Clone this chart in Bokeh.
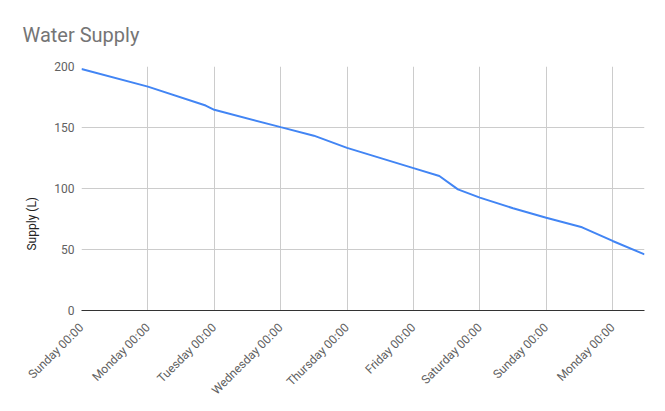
import math
from bokeh.plotting import figure
from bokeh.models import FixedTicker, Range1d, Title
from bokeh.embed import file_html
from bokeh.resources import INLINE

# Data (days since Sunday 00:00, supply in litres)
days = [0, 1, 1.87, 2, 3, 3.5, 4, 5, 5.39, 5.67, 6, 6.5, 7, 7.54, 8, 8.48]
supply = [198, 183.5, 168, 164.5, 150.3, 143.3, 133.3, 116.7, 110.2, 99.3, 92.5, 83.8, 76.0, 68.2, 57, 46]

tick_days = [0, 1, 2, 3, 4, 5, 6, 7, 8]
tick_labels = ["Sunday 00:00", "Monday 00:00", "Tuesday 00:00", "Wednesday 00:00",
               "Thursday 00:00", "Friday 00:00", "Saturday 00:00", "Sunday 00:00",
               "Monday 00:00"]
y_ticks = [0, 50, 100, 150, 200]

p = figure(width=665, height=411, output_backend="svg", toolbar_location=None,
           x_range=Range1d(0, 8.48), y_range=Range1d(0, 200),
           min_border_left=81, min_border_right=21, min_border_top=66, min_border_bottom=101,
           title="Water Supply")
p.outline_line_color = None

p.title.text_font = "Roboto"
p.title.text_font_size = "20px"
p.title.text_font_style = "normal"
p.title.text_color = "#757575"
p.title.align = "left"
p.title.offset = -59
p.title.standoff = 40

p.line(days, supply, line_color="#4285F4", line_width=2)

# axes
p.xaxis.ticker = FixedTicker(ticks=tick_days)
p.xaxis.major_label_overrides = {d: l for d, l in zip(tick_days, tick_labels)}
p.xaxis.major_label_orientation = math.pi / 4
p.xaxis.major_label_text_font = "Roboto"
p.xaxis.major_label_text_font_size = "12px"
p.xaxis.major_label_text_color = "#616161"
p.xaxis.axis_line_color = "#333333"
p.xaxis.major_tick_line_color = None
p.xaxis.minor_tick_line_color = None
p.xaxis.major_label_standoff = 9

p.yaxis.ticker = FixedTicker(ticks=y_ticks)
p.yaxis.major_label_text_font = "Roboto"
p.yaxis.major_label_text_font_size = "12px"
p.yaxis.major_label_text_color = "#616161"
p.yaxis.axis_line_color = None
p.yaxis.major_tick_line_color = None
p.yaxis.minor_tick_line_color = None
p.yaxis.major_tick_out = 0
p.yaxis.major_label_standoff = 7

p.xgrid.grid_line_color = "#cccccc"
p.ygrid.grid_line_color = "#cccccc"

ytitle = Title(text="Supply (L)", align="left", offset=60,
               text_font="Roboto", text_font_size="12px", text_font_style="normal",
               text_color="#222222", standoff=26)
p.add_layout(ytitle, "left")

open("out.html", "w").write(file_html(p, INLINE))
